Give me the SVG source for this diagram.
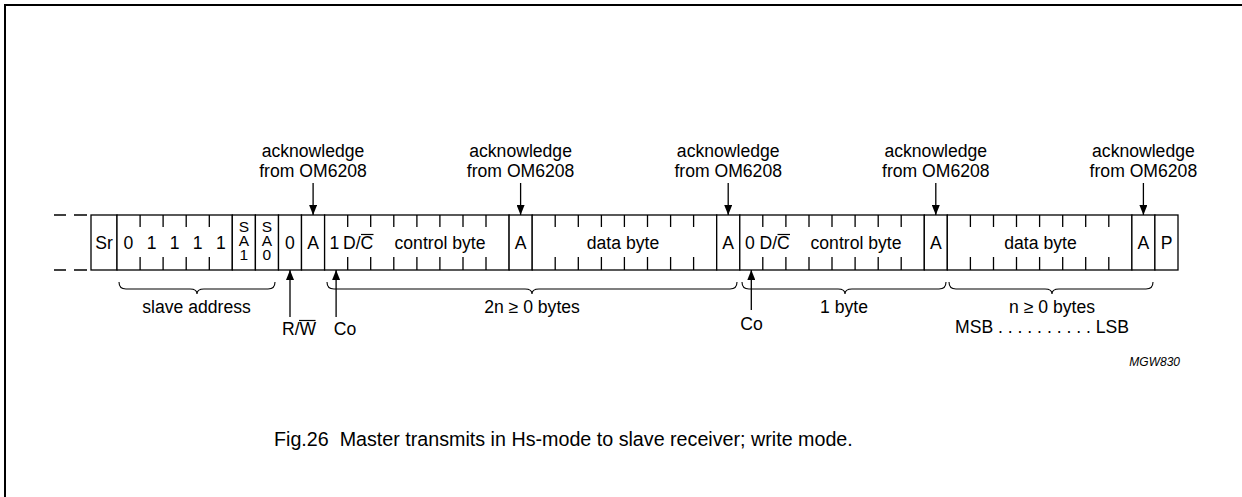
<svg xmlns="http://www.w3.org/2000/svg" width="1242" height="497" viewBox="0 0 1242 497">
<style>
text{font-family:"Liberation Sans",Arial,sans-serif;font-size:17.6px;fill:#000}
.m{text-anchor:middle}
.st{font-size:15.5px}
.cell{fill:#fff;stroke:#000;stroke-width:1.3}
.tk{stroke:#000;stroke-width:1.3;fill:none}
.ln{stroke:#000;stroke-width:1.3;fill:none}
.br{stroke:#000;stroke-width:1.1;fill:none}
.ov{stroke:#000;stroke-width:1.2}
.frame{stroke:#000;stroke-width:2;fill:none}
.it{font-style:italic;font-size:12px}
.cap{font-size:19.7px;white-space:pre}
</style>
<defs>
<marker id="ah" viewBox="0 0 10 8" refX="10" refY="4" markerWidth="10" markerHeight="8" markerUnits="userSpaceOnUse" orient="auto">
<path d="M0,0 L10,4 L0,8 Z" fill="#000"/>
</marker>
</defs>
<rect x="0" y="0" width="1242" height="497" fill="#fff"/>
<path class="frame" d="M5,497 V5 H1242"/>

<g id="bus-continuation">
<path class="tk" d="M54,215 H66 M74,215 H87 M54,270 H66 M74,270 H87"/>
</g>

<g id="field-sr"><rect class="cell" x="91" y="215" width="26" height="55"/><text class="m" x="104" y="249">Sr</text></g>
<g id="field-address">
<rect class="cell" x="117" y="215" width="115.3" height="55"/>
<path class="tk" d="M140.1,215 V227 M163.1,215 V227 M186.2,215 V227 M209.3,215 V227 M140.1,257 V270 M163.1,257 V270 M186.2,257 V270 M209.3,257 V270"/>
<text class="m" x="128.5" y="249">0</text><text class="m" x="151.6" y="249">1</text><text class="m" x="174.7" y="249">1</text><text class="m" x="197.7" y="249">1</text><text class="m" x="220.8" y="249">1</text>
</g>
<g id="field-sa1"><rect class="cell" x="232.3" y="215" width="23.1" height="55"/>
<text class="m st" x="243.9" y="232">S</text><text class="m st" x="243.9" y="246">A</text><text class="m st" x="243.9" y="260">1</text></g>
<g id="field-sa0"><rect class="cell" x="255.4" y="215" width="23.1" height="55"/>
<text class="m st" x="266.9" y="232">S</text><text class="m st" x="266.9" y="246">A</text><text class="m st" x="266.9" y="260">0</text></g>
<g id="field-rw"><rect class="cell" x="278.5" y="215" width="23" height="55"/><text class="m" x="290" y="249">0</text></g>
<g id="field-ack1"><rect class="cell" x="301.5" y="215" width="23.1" height="55"/><text class="m" x="313.1" y="249">A</text></g>
<g id="field-control1">
<rect class="cell" x="324.6" y="215" width="184.5" height="55"/>
<path class="tk" d="M347.7,215 V227 M370.7,215 V227 M393.8,215 V227 M416.9,215 V227 M439.9,215 V227 M463,215 V227 M486,215 V227 M347.7,257 V270 M370.7,257 V270 M393.8,257 V270 M416.9,257 V270 M439.9,257 V270 M463,257 V270 M486,257 V270"/>
<text class="m" x="334.5" y="249">1</text><text x="343" y="249">D/C</text><line class="ov" x1="361" y1="234.5" x2="373.5" y2="234.5"/>
<text class="m" x="440" y="249">control byte</text>
</g>
<g id="field-ack2"><rect class="cell" x="509.1" y="215" width="23.1" height="55"/><text class="m" x="520.6" y="249">A</text></g>
<g id="field-data1">
<rect class="cell" x="532.2" y="215" width="184.5" height="55"/>
<path class="tk" d="M555.2,215 V227 M578.3,215 V227 M601.4,215 V227 M624.4,215 V227 M647.5,215 V227 M670.6,215 V227 M693.6,215 V227 M555.2,257 V270 M578.3,257 V270 M601.4,257 V270 M624.4,257 V270 M647.5,257 V270 M670.6,257 V270 M693.6,257 V270"/>
<text class="m" x="623" y="249">data byte</text>
</g>
<g id="field-ack3"><rect class="cell" x="716.7" y="215" width="23.1" height="55"/><text class="m" x="728.2" y="249">A</text></g>
<g id="field-control2">
<rect class="cell" x="739.8" y="215" width="184.5" height="55"/>
<path class="tk" d="M762.8,215 V227 M785.9,215 V227 M809,215 V227 M832,215 V227 M855.1,215 V227 M878.2,215 V227 M901.2,215 V227 M762.8,257 V270 M785.9,257 V270 M809,257 V270 M832,257 V270 M855.1,257 V270 M878.2,257 V270 M901.2,257 V270"/>
<text class="m" x="749.8" y="249">0</text><text x="759.5" y="249">D/C</text><line class="ov" x1="777.5" y1="234.5" x2="790" y2="234.5"/>
<text class="m" x="856" y="249">control byte</text>
</g>
<g id="field-ack4"><rect class="cell" x="924.3" y="215" width="23" height="55"/><text class="m" x="935.8" y="249">A</text></g>
<g id="field-data2">
<rect class="cell" x="947.3" y="215" width="184.6" height="55"/>
<path class="tk" d="M970.4,215 V227 M993.5,215 V227 M1016.5,215 V227 M1039.6,215 V227 M1062.7,215 V227 M1085.7,215 V227 M1108.8,215 V227 M970.4,257 V270 M993.5,257 V270 M1016.5,257 V270 M1039.6,257 V270 M1062.7,257 V270 M1085.7,257 V270 M1108.8,257 V270"/>
<text class="m" x="1040.5" y="249">data byte</text>
</g>
<g id="field-ack5"><rect class="cell" x="1131.9" y="215" width="23" height="55"/><text class="m" x="1143.4" y="249">A</text></g>
<g id="field-stop"><rect class="cell" x="1154.9" y="215" width="23.1" height="55"/><text class="m" x="1166.5" y="249">P</text></g>

<g id="labels">
<text class="m" x="313" y="157">acknowledge</text><text class="m" x="313" y="177">from OM6208</text>
<text class="m" x="520.6" y="157">acknowledge</text><text class="m" x="520.6" y="177">from OM6208</text>
<text class="m" x="728.2" y="157">acknowledge</text><text class="m" x="728.2" y="177">from OM6208</text>
<text class="m" x="935.8" y="157">acknowledge</text><text class="m" x="935.8" y="177">from OM6208</text>
<text class="m" x="1143.4" y="157">acknowledge</text><text class="m" x="1143.4" y="177">from OM6208</text>
<text class="m" x="196.5" y="313">slave address</text>
<text class="m" x="532" y="313">2n ≥ 0 bytes</text>
<text class="m" x="844" y="313">1 byte</text>
<text class="m" x="1052" y="313">n ≥ 0 bytes</text>
<text class="m" x="1042" y="333">MSB . . . . . . . . . . LSB</text>
<text x="282" y="335">R/W</text><line class="ov" x1="299" y1="320.5" x2="315.5" y2="320.5"/>
<text class="m" x="345" y="335">Co</text>
<text class="m" x="751.5" y="330">Co</text>
<text class="it" x="1180" y="366" text-anchor="end">MGW830</text>
<text class="cap" x="274" y="446">Fig.26  Master transmits in Hs-mode to slave receiver; write mode.</text>
</g>

<g id="braces">
<path class="br" d="M119,282 Q119,289 126,289 H190 Q197,289 197,294 Q197,289 204,289 H268 Q275,289 275,282"/>
<path class="br" d="M327,282 Q327,289 334,289 H525 Q532,289 532,294 Q532,289 539,289 H730 Q737,289 737,282"/>
<path class="br" d="M742,282 Q742,289 749,289 H838 Q845,289 845,294 Q845,289 852,289 H939 Q946,289 946,282"/>
<path class="br" d="M949,282 Q949,289 956,289 H1045 Q1052,289 1052,294 Q1052,289 1059,289 H1146 Q1153,289 1153,282"/>
</g>

<g id="connectors">
<line class="ln" x1="313.1" y1="183" x2="313.1" y2="215" marker-end="url(#ah)"/>
<line class="ln" x1="520.6" y1="183" x2="520.6" y2="215" marker-end="url(#ah)"/>
<line class="ln" x1="728.2" y1="183" x2="728.2" y2="215" marker-end="url(#ah)"/>
<line class="ln" x1="935.8" y1="183" x2="935.8" y2="215" marker-end="url(#ah)"/>
<line class="ln" x1="1143.4" y1="183" x2="1143.4" y2="215" marker-end="url(#ah)"/>
<line class="ln" x1="290" y1="317" x2="290" y2="270" marker-end="url(#ah)"/>
<line class="ln" x1="336.1" y1="317" x2="336.1" y2="270" marker-end="url(#ah)"/>
<line class="ln" x1="751.3" y1="310" x2="751.3" y2="270" marker-end="url(#ah)"/>
</g>
</svg>
